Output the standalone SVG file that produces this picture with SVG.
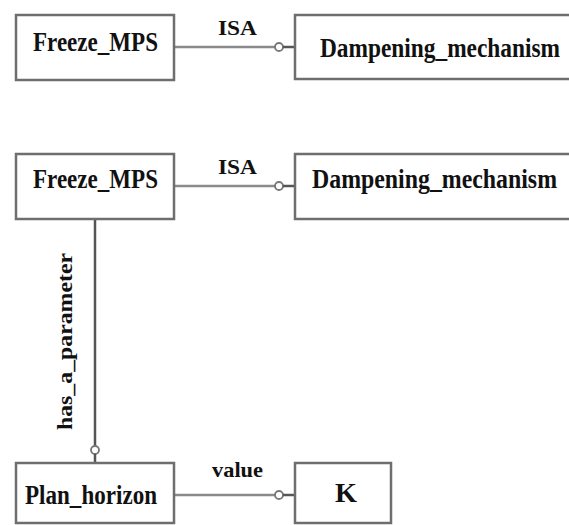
<svg xmlns="http://www.w3.org/2000/svg" width="569" height="525" viewBox="0 0 569 525">
  <style>
    .box { fill: #ffffff; stroke: #6e6e6e; stroke-width: 2.5; }
    .lbl { font-family: "Liberation Serif", "Times New Roman", serif; font-weight: bold; font-size: 27px; fill: #111111; }
    .elbl { font-family: "Liberation Serif", "Times New Roman", serif; font-weight: bold; font-size: 22px; fill: #111111; }
    .edge { fill: none; stroke: #8a8a8a; stroke-width: 2.5; }
    .tip { fill: none; stroke: #555555; stroke-width: 2.5; }
    .ring { fill: #ffffff; stroke: #777777; stroke-width: 1.8; }
  </style>

  <!-- connectors -->
  <g id="connectors">
    <!-- row 1: ISA -->
    <line class="edge" x1="174" y1="47" x2="275" y2="47"/>
    <circle class="ring" cx="279" cy="47" r="4"/>
    <line class="tip" x1="283" y1="47" x2="295" y2="47"/>
    <text class="elbl" x="218" y="35" textLength="39" lengthAdjust="spacingAndGlyphs">ISA</text>

    <!-- row 2: ISA -->
    <line class="edge" x1="174" y1="186" x2="275" y2="186"/>
    <circle class="ring" cx="279" cy="186" r="4"/>
    <line class="tip" x1="283" y1="186" x2="295" y2="186"/>
    <text class="elbl" x="218" y="174" textLength="39" lengthAdjust="spacingAndGlyphs">ISA</text>

    <!-- has_a_parameter (vertical) -->
    <line class="tip" x1="95" y1="219" x2="95" y2="446"/>
    <circle class="ring" cx="95" cy="450" r="4"/>
    <line class="tip" x1="95" y1="454" x2="95" y2="463"/>
    <text class="elbl" transform="translate(72,430) rotate(-90)" x="0" y="0" textLength="177" lengthAdjust="spacingAndGlyphs">has_a_parameter</text>

    <!-- value -->
    <line class="edge" x1="174" y1="495" x2="275" y2="495"/>
    <circle class="ring" cx="279" cy="495" r="4"/>
    <line class="tip" x1="283" y1="495" x2="295" y2="495"/>
    <text class="elbl" x="212" y="477" textLength="51" lengthAdjust="spacingAndGlyphs">value</text>
  </g>

  <!-- nodes -->
  <g id="freeze_mps_1">
    <rect class="box" x="16" y="15" width="158" height="65"/>
    <text class="lbl" x="33" y="51" textLength="125" lengthAdjust="spacingAndGlyphs">Freeze_MPS</text>
  </g>
  <g id="dampening_mechanism_1">
    <rect class="box" x="295" y="15" width="290" height="64"/>
    <text class="lbl" x="320" y="57" textLength="240" lengthAdjust="spacingAndGlyphs">Dampening_mechanism</text>
  </g>
  <g id="freeze_mps_2">
    <rect class="box" x="16" y="154" width="158" height="65"/>
    <text class="lbl" x="33" y="188" textLength="125" lengthAdjust="spacingAndGlyphs">Freeze_MPS</text>
  </g>
  <g id="dampening_mechanism_2">
    <rect class="box" x="295" y="154" width="290" height="65"/>
    <text class="lbl" x="312" y="188" textLength="245" lengthAdjust="spacingAndGlyphs">Dampening_mechanism</text>
  </g>
  <g id="plan_horizon">
    <rect class="box" x="16" y="463" width="158" height="60"/>
    <text class="lbl" x="25" y="504" textLength="132" lengthAdjust="spacingAndGlyphs">Plan_horizon</text>
  </g>
  <g id="k">
    <rect class="box" x="295" y="463" width="96" height="60"/>
    <text class="lbl" x="335" y="502" textLength="22" lengthAdjust="spacingAndGlyphs">K</text>
  </g>
</svg>
